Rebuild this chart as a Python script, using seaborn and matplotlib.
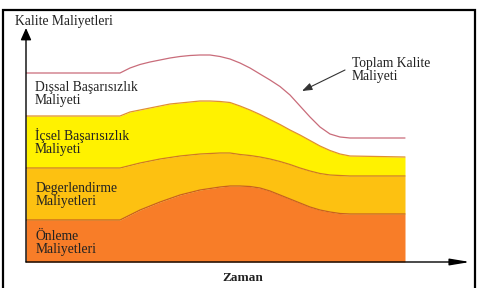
import matplotlib
matplotlib.use("Agg")
import pandas as pd
import matplotlib.pyplot as plt
import seaborn as sns
from matplotlib.patches import Rectangle

sns.set_style("white")
plt.rcParams['font.family'] = ['Liberation Serif', 'DejaVu Serif']

# Zaman ekseni ve maliyet katmanlarinin ust sinirlari (okunan degerler)
zaman = [0, 94, 104, 114, 124, 134, 144, 154, 164, 174, 184, 194, 204,
         214, 224, 234, 244, 254, 264, 274, 284, 294, 304, 314, 324, 379]
onleme = [42, 42, 47, 52, 56, 60, 63.5, 67, 69.5, 72, 73.5, 75, 76,
          76, 75.5, 74, 71, 67, 63, 59, 55, 52, 50, 48.5, 48, 48]
degerlendirme = [94, 94, 96.5, 99, 101, 103, 104.5, 106, 107, 108, 108.5, 109, 109,
                 107.5, 106.5, 105, 103, 100.5, 97.5, 94, 91, 88.5, 87, 86.5, 86, 86]
icsel = [146, 146, 150, 152, 154, 156, 158, 159, 160, 161, 161, 160.5, 159.5,
         156, 152, 147.5, 142.5, 137.5, 132, 127, 121.5, 116, 111.5, 108, 106, 105]
toplam = [189, 189, 194, 197.5, 200, 202, 204, 205.5, 206.5, 207, 207, 205.5, 203,
          199, 194, 188, 182, 175.5, 167, 156, 145, 135, 128, 125, 124, 124]

renk_onleme = "#F87D28"
renk_deger = "#FDC111"
renk_icsel = "#FFF200"

W, H = 481, 288
fig = plt.figure(figsize=(W / 100, H / 100), dpi=100)
ax = fig.add_axes([26 / W, 26 / H, 444 / W, 234 / H])
ax.set_xlim(0, 444)
ax.set_ylim(0, 234)
ax.axis("off")

# Katmanlar
ax.fill_between(zaman, 0, onleme, color=renk_onleme, lw=0)
ax.fill_between(zaman, onleme, degerlendirme, color=renk_deger, lw=0)
ax.fill_between(zaman, degerlendirme, icsel, color=renk_icsel, lw=0)

# Sinir cizgileri
df = pd.DataFrame({
    "zaman": zaman * 4,
    "deger": onleme + degerlendirme + icsel + toplam,
    "seri": ["onleme"] * len(zaman) + ["deger"] * len(zaman)
            + ["icsel"] * len(zaman) + ["toplam"] * len(zaman),
})
palet = {"onleme": "#C8601E", "deger": "#D07A22", "icsel": "#E09030", "toplam": "#C96C7A"}
sns.lineplot(data=df, x="zaman", y="deger", hue="seri", palette=palet,
             legend=False, ax=ax, linewidth=0.9, sort=False)

# Eksen oklari
ax.annotate("", xy=(1, 0), xytext=(0, 0), xycoords="axes fraction",
            arrowprops=dict(arrowstyle="-|>,head_length=1.2,head_width=0.2",
                            color="black", lw=1, shrinkA=0, shrinkB=0),
            annotation_clip=False)
ax.annotate("", xy=(0, 1), xytext=(0, 0), xycoords="axes fraction",
            arrowprops=dict(arrowstyle="-|>,head_length=0.72,head_width=0.32",
                            color="black", lw=1, shrinkA=0, shrinkB=0),
            annotation_clip=False)

# Cerceve ve toplam kalite maliyeti oku
fig.patches.append(Rectangle((3 / W, -0.05), 472 / W, 1 - 10 / H + 0.05,
                             transform=fig.transFigure, fill=False,
                             lw=1.6, ec="black"))
ax.annotate("", xy=(302 / W, 1 - 91 / H), xytext=(345 / W, 1 - 70 / H),
            xycoords="figure fraction",
            arrowprops=dict(arrowstyle="-|>,head_length=0.6,head_width=0.22",
                            color="#333333", lw=0.8, shrinkA=0, shrinkB=0),
            annotation_clip=False)


def yazi(x, y, s, **kw):
    fig.text(x / W, 1 - y / H, s, ha="left", va="center", fontsize=9.8,
             color="#222222", linespacing=1.0, **kw)


yazi(15, 21, "Kalite Maliyetleri")
yazi(35, 94, "Dışsal Başarısızlık\nMaliyeti")
yazi(35, 142, "İçsel Başarısızlık\nMaliyeti")
yazi(36, 195, "Degerlendirme\nMaliyetleri")
yazi(36, 243, "Önleme\nMaliyetleri")
yazi(352, 70, "Toplam Kalite\nMaliyeti")
fig.text(243 / W, 1 - 278 / H, "Zaman", ha="center", va="center",
         fontsize=9.5, color="#222222", fontweight="bold")

fig.savefig("out.png", dpi=100)
